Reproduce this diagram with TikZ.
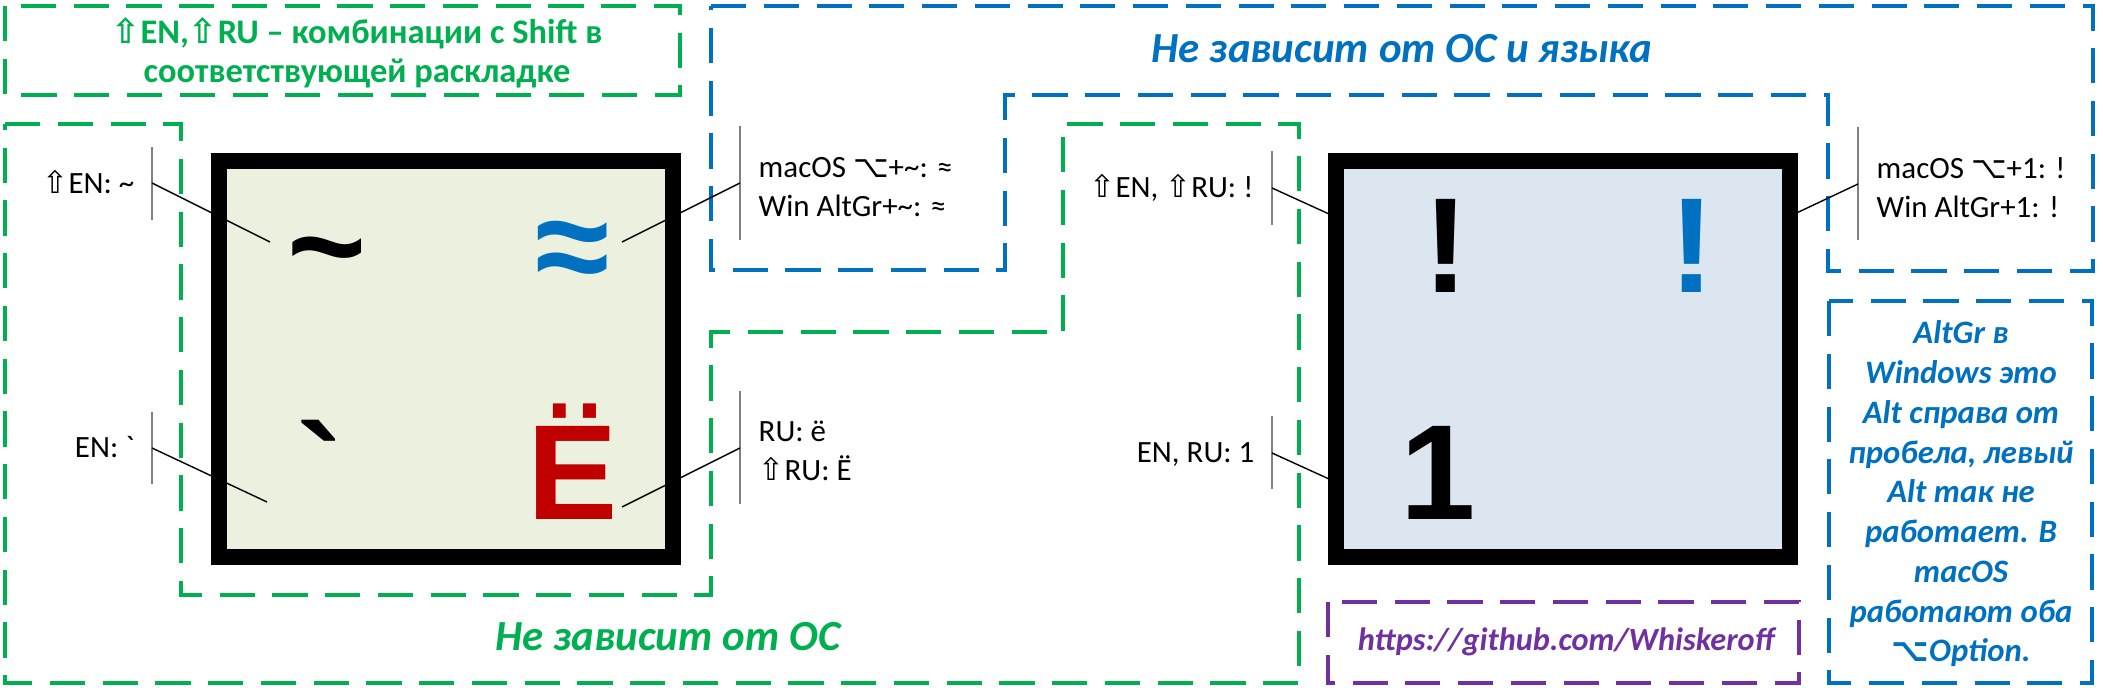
\documentclass[tikz,border=0pt]{standalone}
\usepackage{fontspec}
\setmainfont{Carlito}
\newfontfamily\lblfont{Carlito}
\newfontfamily\symfont{DejaVu Sans}
\newfontfamily\keyfont{Liberation Sans}
\newcommand\shiftkey{{\symfont ⇧}}
\newcommand\optkey{{\symfont ⌥}}
\definecolor{osgreen}{HTML}{00B050}
\definecolor{langblue}{HTML}{0070C0}
\definecolor{linkpurple}{HTML}{7030A0}
\definecolor{yored}{HTML}{C00000}
\definecolor{keygreen}{HTML}{EBF1DE}
\definecolor{keyblue}{HTML}{DCE6F1}

\begin{document}
\begin{tikzpicture}[x=0.01cm, y=-0.01cm,
  zone/.style={line width=1.2pt, dash pattern=on 10pt off 5pt},
  keybox/.style={draw=black, line width=4.5pt, minimum width=4.53cm, minimum height=3.95cm, inner sep=0pt},
  keyglyph/.style={font=\keyfont\bfseries\fontsize{38.5}{40}\selectfont, anchor=base, inner sep=0pt},
  lbl/.style={font=\lblfont\fontsize{8.8}{11.1}\selectfont, inner sep=0pt, align=left},
  tick/.style={gray, line width=0.5pt},
  lead/.style={black, line width=0.4pt},
  zonetitle/.style={font=\bfseries\itshape\fontsize{12.2}{14}\selectfont, anchor=base, inner sep=0pt}]
  \useasboundingbox (0,0) rectangle (2103,688);

  % Zones
  \draw[zone, osgreen] (5,6) rectangle (680,95);
  \draw[zone, langblue] (711,6) -- (2093,6) -- (2093,271) -- (1828,271) -- (1828,95)
    -- (1005,95) -- (1005,270) -- (711,270) -- cycle;
  \draw[zone, osgreen] (5,124) -- (181,124) -- (181,595) -- (711,595) -- (711,332)
    -- (1063,332) -- (1063,124) -- (1299,124) -- (1299,683) -- (5,683) -- cycle;
  \draw[zone, linkpurple] (1328,602) rectangle (1799,683);
  \draw[zone, langblue] (1829,301) rectangle (2092,683);

  % Zone texts
  \node[font=\bfseries\fontsize{9.8}{11.1}\selectfont, text=osgreen, align=center, inner sep=0pt]
    (noteShift) at (357,53) {\shiftkey EN,\shiftkey RU – комбинации с Shift в\\соответствующей раскладке};
  \node[zonetitle, text=langblue] (titleLang) at (1402,63) {Не зависит от ОС и языка};
  \node[zonetitle, text=osgreen] (titleOS) at (668,650) {Не зависит от ОС};
  \node[font=\bfseries\itshape\fontsize{9.2}{11}\selectfont, text=linkpurple, anchor=base, inner sep=0pt]
    (link) at (1566,650) {https://github.com/Whiskeroff};
  \node[font=\bfseries\itshape\fontsize{9.3}{11.3}\selectfont, text=langblue, align=center, inner sep=0pt]
    (noteAlt) at (1961,494) {AltGr в\\Windows это\\Alt справа от\\пробела, левый\\Alt так не\\работает. В\\macOS\\работают оба\\\optkey Option.};

  % Keys
  \node[keybox, fill=keygreen] (keyTilde) at (446,359) {};
  \node[keybox, fill=keyblue] (keyOne) at (1563,359) {};
  \node[keyglyph] (gTilde) at (327,292) {\char"7E};
  \node[keyglyph, text=langblue] (gApprox) at (573,292) {≈};
  \node[keyglyph] (gGrave) at (320,519) {\char"60};
  \node[keyglyph, text=yored] (gYo) at (573,519) {Ё};
  \node[keyglyph] (gExcl) at (1446,292) {!};
  \node[keyglyph, text=langblue] (gExclAlt) at (1692,292) {!};
  \node[keyglyph] (gOne) at (1438,519) {1};

  % Labels
  \node[lbl, anchor=base east] (lTilde) at (135,193) {\shiftkey EN: \char"7E};
  \node[lbl, anchor=base east] (lGrave) at (135,457) {EN: \char"60};
  \node[lbl, anchor=west] (lApprox) at (758,187) {macOS \optkey+\char"7E: ≈\\Win AltGr+\char"7E: ≈};
  \node[lbl, anchor=west] (lYo) at (758,451) {RU: ё\\\shiftkey RU: Ё};
  \node[lbl, anchor=base east] (lExcl) at (1254,198) {\shiftkey EN, \shiftkey RU: !};
  \node[lbl, anchor=base east] (lOne) at (1255,462) {EN, RU: 1};
  \node[lbl, anchor=west] (lExclAlt) at (1876,188) {macOS \optkey+1: !\\Win AltGr+1: !};

  % Ticks and leads
  \coordinate (tTilde) at (152,183);    \coordinate (pTilde) at (270,242);
  \coordinate (tGrave) at (152,448);    \coordinate (pGrave) at (267,502);
  \coordinate (tApprox) at (740,183);   \coordinate (pApprox) at (622,242);
  \coordinate (tYo) at (740,448);       \coordinate (pYo) at (622,507);
  \coordinate (tExcl) at (1272,188);    \coordinate (pExcl) at (1340,219);
  \coordinate (tOne) at (1272,453);     \coordinate (pOne) at (1340,484);
  \coordinate (tExclAlt) at (1858,184); \coordinate (pExclAlt) at (1788,217);
  \draw[tick] (tTilde) ++(0,-36) -- ++(0,73);
  \draw[tick] (tGrave) ++(0,-36) -- ++(0,72);
  \draw[tick] (tApprox) ++(0,-57) -- ++(0,114);
  \draw[tick] (tYo) ++(0,-57) -- ++(0,113);
  \draw[tick] (tExcl) ++(0,-37) -- ++(0,74);
  \draw[tick] (tOne) ++(0,-37) -- ++(0,73);
  \draw[tick] (tExclAlt) ++(0,-57) -- ++(0,113);
  \draw[lead] (tTilde) -- (pTilde);
  \draw[lead] (tGrave) -- (pGrave);
  \draw[lead] (tApprox) -- (pApprox);
  \draw[lead] (tYo) -- (pYo);
  \draw[lead] (tExcl) -- (pExcl);
  \draw[lead] (tOne) -- (pOne);
  \draw[lead] (tExclAlt) -- (pExclAlt);
\end{tikzpicture}
\end{document}
